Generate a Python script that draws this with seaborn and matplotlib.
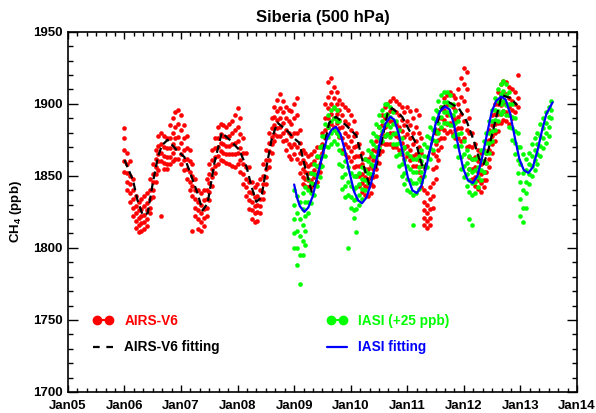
import pandas as pd
import seaborn as sns
import matplotlib.pyplot as plt
from matplotlib.lines import Line2D
from matplotlib.legend_handler import HandlerLine2D
from matplotlib.ticker import MultipleLocator

# --- data (decimal years, CH4 in ppb) ---
year_ticks = [2005, 2006, 2007, 2008, 2009, 2010, 2011, 2012, 2013, 2014]
year_labels = ['Jan05', 'Jan06', 'Jan07', 'Jan08', 'Jan09',
               'Jan10', 'Jan11', 'Jan12', 'Jan13', 'Jan14']

airs_t = [
    2006.00, 2006.05, 2006.10, 2006.15, 2006.20, 2006.25, 2006.30, 2006.35, 2006.40, 2006.45,
    2006.50, 2006.55, 2006.60, 2006.65, 2006.70, 2006.75, 2006.80, 2006.85, 2006.90, 2006.95,
    2007.00, 2007.05, 2007.10, 2007.15, 2007.20, 2007.25, 2007.30, 2007.35, 2007.40, 2007.45,
    2007.50, 2007.55, 2007.60, 2007.65, 2007.70, 2007.75, 2007.80, 2007.85, 2007.90, 2007.95,
    2008.00, 2008.05, 2008.10, 2008.15, 2008.20, 2008.25, 2008.30, 2008.35, 2008.40, 2008.45,
    2008.50, 2008.55, 2008.60, 2008.65, 2008.70, 2008.75, 2008.80, 2008.85, 2008.90, 2008.95,
    2009.00, 2009.05, 2009.10, 2009.15, 2009.20, 2009.25, 2009.30, 2009.35, 2009.40, 2009.45,
    2009.50, 2009.55, 2009.60, 2009.65, 2009.70, 2009.75, 2009.80, 2009.85, 2009.90, 2009.95,
    2010.00, 2010.05, 2010.10, 2010.15, 2010.20, 2010.25, 2010.30, 2010.35, 2010.40, 2010.45,
    2010.50, 2010.55, 2010.60, 2010.65, 2010.70, 2010.75, 2010.80, 2010.85, 2010.90, 2010.95,
    2011.00, 2011.05, 2011.10, 2011.15, 2011.20, 2011.25, 2011.30, 2011.35, 2011.40, 2011.45,
    2011.50, 2011.55, 2011.60, 2011.65, 2011.70, 2011.75, 2011.80, 2011.85, 2011.90, 2011.95,
    2012.00, 2012.05, 2012.10, 2012.15, 2012.20, 2012.25, 2012.30, 2012.35, 2012.40, 2012.45,
    2012.50, 2012.55, 2012.60, 2012.65, 2012.70, 2012.75, 2012.80, 2012.85, 2012.90, 2012.95,
]
airs_ch4 = [
    # 2006
    [1883, 1876, 1868, 1860, 1853], [1866, 1858, 1852, 1846, 1840], [1860, 1850, 1844, 1838, 1832],
    [1848, 1840, 1834, 1828, 1822], [1836, 1829, 1824, 1819, 1814], [1832, 1826, 1821, 1816, 1811],
    [1834, 1827, 1822, 1817, 1812], [1836, 1829, 1823, 1818, 1813], [1838, 1831, 1826, 1820, 1815],
    [1848, 1840, 1834, 1828, 1824], [1858, 1851, 1846, 1840, 1835], [1868, 1862, 1856, 1851, 1846],
    [1878, 1871, 1865, 1860, 1854], [1880, 1872, 1866, 1860, 1822], [1878, 1870, 1864, 1859, 1855],
    [1876, 1869, 1863, 1858, 1855], [1885, 1876, 1869, 1863, 1858], [1890, 1880, 1872, 1866, 1860],
    [1894, 1884, 1876, 1869, 1862], [1896, 1886, 1877, 1869, 1862],
    # 2007
    [1892, 1882, 1873, 1865, 1858], [1885, 1876, 1868, 1861, 1854], [1878, 1869, 1862, 1855, 1848],
    [1868, 1860, 1853, 1846, 1840], [1858, 1850, 1843, 1836, 1812], [1848, 1840, 1834, 1828, 1822],
    [1840, 1832, 1826, 1820, 1813], [1838, 1830, 1824, 1818, 1812], [1840, 1833, 1827, 1821, 1815],
    [1848, 1840, 1834, 1828, 1822], [1858, 1851, 1845, 1839, 1833], [1868, 1861, 1855, 1849, 1843],
    [1876, 1869, 1863, 1857, 1852], [1884, 1876, 1870, 1864, 1858], [1886, 1879, 1873, 1867, 1861],
    [1885, 1878, 1872, 1866, 1860], [1884, 1877, 1871, 1865, 1859], [1886, 1878, 1871, 1865, 1858],
    [1888, 1880, 1872, 1865, 1857], [1892, 1882, 1873, 1865, 1856],
    # 2008
    [1897, 1884, 1874, 1866, 1858], [1890, 1879, 1869, 1861, 1853], [1876, 1866, 1858, 1851, 1844],
    [1866, 1856, 1848, 1842, 1836], [1856, 1846, 1839, 1833, 1827], [1846, 1838, 1832, 1826, 1820],
    [1842, 1835, 1829, 1824, 1818], [1844, 1836, 1830, 1825, 1819], [1848, 1840, 1834, 1829, 1824],
    [1858, 1850, 1844, 1839, 1834], [1868, 1861, 1855, 1849, 1844], [1880, 1873, 1867, 1861, 1856],
    [1890, 1883, 1877, 1872, 1866], [1898, 1891, 1885, 1879, 1874], [1903, 1895, 1889, 1883, 1878],
    [1907, 1897, 1890, 1884, 1878], [1902, 1894, 1887, 1880, 1874], [1898, 1890, 1882, 1875, 1868],
    [1896, 1888, 1880, 1872, 1864], [1895, 1886, 1878, 1870, 1862],
    # 2009
    [1900, 1890, 1880, 1872, 1865], [1904, 1892, 1880, 1870, 1862], [1882, 1873, 1866, 1859, 1852],
    [1868, 1861, 1855, 1849, 1844], [1866, 1859, 1853, 1848, 1843], [1864, 1857, 1852, 1847, 1842],
    [1865, 1858, 1852, 1847, 1842], [1867, 1860, 1854, 1849, 1844], [1870, 1863, 1857, 1851, 1846],
    [1870, 1864, 1858, 1853], [1880, 1872, 1866], [1900, 1890, 1882, 1876],
    [1915, 1905, 1897, 1890, 1884], [1918, 1908, 1900, 1893, 1886], [1912, 1904, 1897, 1890, 1884],
    [1908, 1900, 1893, 1887, 1880], [1903, 1896, 1889, 1883, 1877], [1900, 1892, 1884, 1876, 1868],
    [1898, 1888, 1880, 1872, 1865], [1896, 1886, 1878, 1870, 1863],
    # 2010
    [1892, 1882, 1874, 1867, 1860], [1888, 1878, 1870, 1863, 1856], [1880, 1871, 1864, 1857, 1850],
    [1872, 1864, 1857, 1850, 1843], [1866, 1858, 1851, 1845, 1839], [1862, 1855, 1849, 1843, 1837],
    [1862, 1855, 1848, 1842, 1836], [1864, 1857, 1850, 1844, 1838], [1868, 1861, 1855, 1849, 1843],
    [1874, 1867, 1861, 1855, 1850], [1884, 1877, 1871, 1865, 1859], [1892, 1885, 1879, 1873, 1867],
    [1898, 1890, 1884, 1878, 1872], [1900, 1893, 1886, 1879, 1872], [1902, 1895, 1888, 1880, 1872],
    [1904, 1896, 1888, 1880, 1870], [1902, 1894, 1886, 1878, 1870], [1900, 1892, 1884, 1876, 1868],
    [1898, 1889, 1881, 1873, 1865], [1894, 1885, 1877, 1869, 1862],
    # 2011
    [1898, 1888, 1879, 1871, 1864], [1895, 1885, 1876, 1868, 1861], [1890, 1880, 1872, 1864, 1857],
    [1896, 1884, 1874, 1865, 1857], [1892, 1880, 1870, 1861, 1853], [1876, 1866, 1857, 1849, 1842],
    [1840, 1832, 1826, 1821, 1816], [1838, 1830, 1824, 1819, 1814], [1842, 1834, 1827, 1821, 1816],
    [1866, 1855, 1845, 1836, 1828], [1880, 1872, 1864, 1856, 1848], [1890, 1882, 1875, 1868, 1861],
    [1898, 1890, 1883, 1876, 1870], [1904, 1896, 1889, 1882, 1876], [1906, 1899, 1892, 1886, 1880],
    [1908, 1900, 1893, 1887, 1881], [1906, 1898, 1891, 1885, 1879], [1904, 1896, 1889, 1882, 1876],
    [1910, 1900, 1891, 1883, 1876], [1918, 1905, 1893, 1883, 1874],
    # 2012
    [1925, 1914, 1902, 1888, 1876], [1922, 1910, 1896, 1882, 1870], [1890, 1880, 1871, 1863, 1855],
    [1880, 1870, 1862, 1855, 1848], [1872, 1863, 1856, 1849, 1843], [1868, 1860, 1853, 1847, 1841],
    [1866, 1858, 1851, 1845, 1839], [1868, 1860, 1853, 1847, 1842], [1874, 1866, 1859, 1853, 1847],
    [1882, 1875, 1868, 1862, 1856], [1892, 1885, 1878, 1872, 1866], [1900, 1893, 1886, 1880, 1874],
    [1908, 1900, 1893, 1887, 1881], [1914, 1906, 1899, 1893, 1887], [1916, 1908, 1901, 1895, 1889],
    [1915, 1907, 1900, 1894, 1888], [1912, 1904, 1898, 1892, 1886], [1910, 1902, 1896, 1890],
    [1908, 1900, 1894], [1920, 1904, 1898],
]

iasi_t = [
    2009.00, 2009.05, 2009.10, 2009.15, 2009.20, 2009.25, 2009.30, 2009.35, 2009.40, 2009.45,
    2009.50, 2009.55, 2009.60, 2009.65, 2009.70, 2009.75, 2009.80, 2009.85, 2009.90, 2009.95,
    2010.00, 2010.05, 2010.10, 2010.15, 2010.20, 2010.25, 2010.30, 2010.35, 2010.40, 2010.45,
    2010.50, 2010.55, 2010.60, 2010.65, 2010.70, 2010.75, 2010.80, 2010.85, 2010.90, 2010.95,
    2011.00, 2011.05, 2011.10, 2011.15, 2011.20, 2011.25, 2011.30, 2011.35, 2011.40, 2011.45,
    2011.50, 2011.55, 2011.60, 2011.65, 2011.70, 2011.75, 2011.80, 2011.85, 2011.90, 2011.95,
    2012.00, 2012.05, 2012.10, 2012.15, 2012.20, 2012.25, 2012.30, 2012.35, 2012.40, 2012.45,
    2012.50, 2012.55, 2012.60, 2012.65, 2012.70, 2012.75, 2012.80, 2012.85, 2012.90, 2012.95,
    2013.00, 2013.05, 2013.10, 2013.15, 2013.20, 2013.25, 2013.30, 2013.35, 2013.40, 2013.45,
    2013.50, 2013.55,
]
iasi_ch4 = [
    # 2009
    [1840, 1830, 1820, 1810, 1800], [1836, 1824, 1812, 1800, 1788], [1832, 1820, 1808, 1795, 1775],
    [1838, 1827, 1816, 1805, 1795], [1842, 1832, 1822, 1812, 1802], [1848, 1840, 1832, 1824],
    [1852, 1845, 1838, 1831], [1858, 1851, 1844, 1837], [1864, 1857, 1850, 1843],
    [1870, 1863, 1856, 1849], [1878, 1871, 1864, 1857], [1886, 1878, 1871, 1864],
    [1892, 1884, 1877, 1870], [1896, 1888, 1880, 1872], [1898, 1890, 1882, 1874],
    [1896, 1888, 1880, 1872], [1888, 1878, 1868, 1858], [1866, 1857, 1849, 1841],
    [1860, 1851, 1843, 1835], [1856, 1846, 1837, 1800],
    # 2010
    [1852, 1843, 1835, 1828], [1850, 1841, 1833, 1826, 1821], [1850, 1842, 1834, 1827, 1811],
    [1852, 1844, 1837, 1830], [1856, 1848, 1841, 1834], [1862, 1854, 1847, 1840],
    [1868, 1860, 1852, 1845], [1874, 1866, 1858, 1851], [1880, 1872, 1864, 1857],
    [1886, 1878, 1870, 1863], [1892, 1884, 1876, 1869], [1896, 1888, 1881, 1874],
    [1900, 1892, 1885, 1878], [1900, 1893, 1886, 1879], [1898, 1891, 1884, 1877],
    [1894, 1886, 1879, 1872], [1888, 1880, 1872, 1864], [1882, 1873, 1865, 1857],
    [1876, 1867, 1858, 1850], [1870, 1861, 1852, 1844],
    # 2011
    [1866, 1857, 1848, 1840], [1864, 1855, 1847, 1839], [1862, 1853, 1845, 1837, 1816],
    [1862, 1853, 1845, 1838], [1864, 1856, 1848, 1841], [1868, 1860, 1853, 1846],
    [1872, 1864, 1857, 1850], [1878, 1870, 1863, 1856], [1884, 1876, 1869, 1862],
    [1890, 1882, 1875, 1868], [1896, 1888, 1881, 1874], [1902, 1894, 1887, 1880],
    [1906, 1898, 1891, 1884], [1908, 1901, 1894, 1887], [1908, 1901, 1894, 1887],
    [1906, 1899, 1892, 1885], [1900, 1892, 1885, 1878], [1895, 1887, 1879, 1871],
    [1888, 1879, 1871, 1863], [1880, 1871, 1863, 1855],
    # 2012
    [1874, 1865, 1857, 1849], [1868, 1859, 1851, 1843], [1864, 1855, 1847, 1839, 1820],
    [1862, 1853, 1845, 1837, 1816], [1862, 1854, 1846, 1838], [1864, 1856, 1849, 1842],
    [1868, 1861, 1854, 1847], [1874, 1867, 1860, 1853], [1880, 1873, 1866, 1859],
    [1888, 1880, 1873, 1866], [1896, 1888, 1881, 1874], [1904, 1896, 1889, 1882],
    [1910, 1902, 1895, 1888], [1914, 1907, 1900, 1893], [1916, 1909, 1902, 1895],
    [1914, 1906, 1899, 1892], [1908, 1900, 1892, 1884], [1900, 1891, 1883, 1875],
    [1890, 1881, 1873, 1865], [1880, 1870, 1861, 1852],
    # 2013
    [1870, 1858, 1846, 1834, 1822], [1865, 1852, 1840, 1828, 1818], [1862, 1854, 1846, 1838, 1828],
    [1866, 1858, 1851, 1844], [1872, 1864, 1857, 1850], [1876, 1868, 1861, 1854],
    [1880, 1872, 1865, 1858], [1886, 1878, 1871, 1864], [1890, 1883, 1876, 1869],
    [1894, 1887, 1880, 1873], [1898, 1891, 1884, 1878], [1902, 1896, 1890],
]

airs_fit_t = [2006.00, 2006.15, 2006.23, 2006.32, 2006.41, 2006.50, 2006.59, 2006.66, 2006.76,
              2006.92, 2007.06, 2007.19, 2007.29, 2007.38, 2007.47, 2007.59, 2007.72, 2007.86,
              2008.03, 2008.16, 2008.25, 2008.33, 2008.42, 2008.51, 2008.60, 2008.70, 2008.86,
              2009.00, 2009.09, 2009.18, 2009.27, 2009.31, 2009.39, 2009.50, 2009.62, 2009.74,
              2009.92, 2010.10, 2010.18, 2010.27, 2010.33, 2010.45, 2010.56, 2010.65, 2010.73,
              2010.91, 2011.03, 2011.16, 2011.24, 2011.30, 2011.38, 2011.50, 2011.61, 2011.74,
              2011.91, 2012.05, 2012.18, 2012.27, 2012.35, 2012.44, 2012.57, 2012.67, 2012.83,
              2012.94]
airs_fit_ch4 = [1861, 1847, 1833, 1823, 1824, 1845, 1863, 1871, 1875,
                1868, 1863, 1849, 1838, 1826, 1831, 1859, 1880, 1875,
                1868, 1856, 1842, 1832, 1835, 1856, 1875, 1887, 1882,
                1876, 1873, 1858, 1845, 1839, 1846, 1865, 1887, 1891,
                1885, 1878, 1865, 1851, 1844, 1856, 1876, 1893, 1897,
                1891, 1882, 1872, 1860, 1854, 1865, 1883, 1897, 1901,
                1897, 1888, 1874, 1862, 1858, 1869, 1890, 1906, 1904,
                1899]

iasi_fit_t = [2009.00, 2009.05, 2009.10, 2009.18, 2009.25, 2009.33, 2009.42, 2009.50, 2009.58,
              2009.66, 2009.74, 2009.82, 2009.90, 2009.98, 2010.06, 2010.13, 2010.20, 2010.28,
              2010.36, 2010.45, 2010.53, 2010.61, 2010.70, 2010.77, 2010.85, 2010.93, 2011.01,
              2011.09, 2011.17, 2011.25, 2011.33, 2011.42, 2011.50, 2011.58, 2011.67, 2011.75,
              2011.83, 2011.91, 2011.99, 2012.07, 2012.16, 2012.24, 2012.32, 2012.41, 2012.49,
              2012.57, 2012.66, 2012.74, 2012.82, 2012.90, 2012.98, 2013.06, 2013.14, 2013.22,
              2013.30, 2013.38, 2013.46, 2013.57]
iasi_fit_ch4 = [1844, 1835, 1829, 1825, 1828, 1836, 1851, 1864, 1876,
                1882, 1884, 1879, 1867, 1852, 1839, 1833, 1831, 1835,
                1845, 1860, 1876, 1886, 1891, 1889, 1879, 1864, 1849,
                1840, 1838, 1843, 1855, 1871, 1886, 1895, 1898, 1896,
                1885, 1869, 1855, 1847, 1845, 1850, 1862, 1879, 1894,
                1902, 1905, 1903, 1893, 1877, 1862, 1854, 1852, 1856,
                1867, 1881, 1893, 1901]

# --- tidy frames for seaborn ---
airs = pd.DataFrame({'t': airs_t, 'ch4': airs_ch4}).explode('ch4')
airs['ch4'] = airs['ch4'].astype(float)
iasi = pd.DataFrame({'t': iasi_t, 'ch4': iasi_ch4}).explode('ch4')
iasi['ch4'] = iasi['ch4'].astype(float)

sns.set_theme(style="ticks")
plt.rcParams['font.family'] = ['Liberation Sans', 'DejaVu Sans']
plt.rcParams['font.weight'] = 'bold'
plt.rcParams['mathtext.default'] = 'regular'

RED, GREEN, BLUE = '#ff0000', '#00ff00', '#0000ff'
DASH = (0, (3.5, 2))

fig, ax = plt.subplots(figsize=(5.96, 4.13), dpi=100)
fig.subplots_adjust(left=0.114, right=0.968, bottom=0.051, top=0.923)

sns.scatterplot(data=airs, x='t', y='ch4', color=RED, s=11, linewidth=0,
                legend=False, ax=ax, zorder=2)
sns.scatterplot(data=iasi, x='t', y='ch4', color=GREEN, s=11, linewidth=0,
                legend=False, ax=ax, zorder=2)
sns.lineplot(x=airs_fit_t, y=airs_fit_ch4, color='black', lw=1.6,
             linestyle=DASH, sort=False, ax=ax, zorder=3)
sns.lineplot(x=iasi_fit_t, y=iasi_fit_ch4, color=BLUE, lw=1.6,
             sort=False, ax=ax, zorder=4)

ax.set_xlim(2005, 2014)
ax.set_ylim(1700, 1950)
ax.set_xticks(year_ticks)
ax.set_xticklabels(year_labels)
ax.xaxis.set_minor_locator(MultipleLocator(1 / 6))
ax.yaxis.set_major_locator(MultipleLocator(50))
ax.yaxis.set_minor_locator(MultipleLocator(10))
ax.tick_params(which='both', direction='in', top=True, right=True, width=1,
               color='black', labelsize=9.5, labelcolor='black')
ax.tick_params(axis='x', which='major', length=5, pad=6)
ax.tick_params(axis='x', which='minor', length=2.8)
ax.tick_params(axis='y', which='major', length=7.2, pad=4)
ax.tick_params(axis='y', which='minor', length=3.6)
for sp in ax.spines.values():
    sp.set_color('black')
    sp.set_linewidth(1.2)

ax.set_xlabel('')
ax.set_ylabel('CH$_4$ (ppb)', fontsize=9.5, fontweight='bold', color='black', labelpad=6)
ax.set_title('Siberia (500 hPa)', fontsize=12, fontweight='bold', color='black', pad=7)

# --- legends, IDL style: two blocks ---
h_red = Line2D([], [], color=RED, lw=1.5, marker='o', markersize=6)
h_black = Line2D([], [], color='black', lw=1.6, linestyle=(0, (3, 3)))
h_green = Line2D([], [], color=GREEN, lw=1.5, marker='o', markersize=6)
h_blue = Line2D([], [], color=BLUE, lw=1.6)
no_pad = {h_black: HandlerLine2D(marker_pad=0), h_blue: HandlerLine2D(marker_pad=0)}
leg_kw = dict(frameon=False, prop={'size': 9.8, 'weight': 'bold'}, handlelength=1.5,
              handletextpad=0.8, labelspacing=0.9, borderpad=0, borderaxespad=0,
              numpoints=2, loc='center left', labelcolor='linecolor', handler_map=no_pad)
leg1 = ax.legend([h_red, h_black], ['AIRS-V6', 'AIRS-V6 fitting'],
                 bbox_to_anchor=(0.049, 0.16), **leg_kw)
ax.add_artist(leg1)
ax.legend([h_green, h_blue], ['IASI (+25 ppb)', 'IASI fitting'],
          bbox_to_anchor=(0.508, 0.16), **leg_kw)

fig.savefig('out.png', dpi=100)
